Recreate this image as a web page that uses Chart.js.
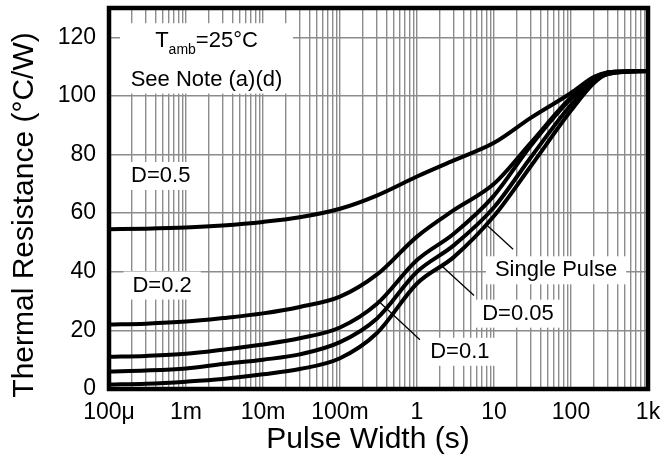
<!DOCTYPE html>
<html>
<head>
<meta charset="utf-8">
<script src="https://cdn.jsdelivr.net/npm/chart.js@4.4.1/dist/chart.umd.min.js"></script>
<style>
  html, body { margin: 0; padding: 0; background: #fff; }
</style>
</head>
<body>
<canvas id="thermalChart" width="662" height="467"></canvas>
<script>
// Pulse width (s) and thermal resistance (°C/W)
const pulseWidth = [1e-4, 3e-4, 1e-3, 3e-3, 1e-2, 3e-2, 0.1, 0.3, 1, 3, 10, 30, 100, 200, 300, 1000];
const duty05   = [54.5, 54.7, 55.1, 55.8, 57, 58.6, 61.5, 66, 72.5, 78, 84, 92.5, 101, 106.5, 108, 108.5];
const duty02   = [22, 22.3, 23, 24.2, 25.8, 28, 31.5, 39, 52, 61, 70, 84, 99.5, 105.5, 108, 108.5];
const duty01   = [11, 11.3, 12, 13.4, 15.2, 17.3, 21, 29, 44, 53, 66, 83, 99, 105, 108, 108.5];
const duty005  = [6, 6.3, 7, 8.5, 10, 11.8, 16, 24, 40, 49, 62, 79, 97, 105, 107.5, 108.5];
const single   = [1.5, 1.8, 2.5, 3.4, 5, 6.8, 10.5, 19, 36, 45, 59, 76, 95, 104.5, 107.5, 108.5];

const xTickValues = [1e-4, 1e-3, 1e-2, 1e-1, 1, 10, 100, 1000];
const xTickLabels = ['100\u03bc', '1m', '10m', '100m', '1', '10', '100', '1k'];
const yTickLabels = ['0', '20', '40', '60', '80', '100', '120'];

// text labels in data coordinates
const notes = [
  { text: 'D=0.5', x: 4.7e-4, y: 72.7 },
  { text: 'D=0.2', x: 4.9e-4, y: 35.3 },
  { text: 'Single Pulse', x: 64, y: 40.5 },
  { text: 'D=0.05', x: 20.5, y: 25.7 },
  { text: 'D=0.1', x: 3.6, y: 12.7 }
];
const leaders = [
  { from: [17.7, 47.7], to: [8.1, 55.9] },
  { from: [5.5, 31.9], to: [2.05, 42.2] },
  { from: [1.09, 16.8], to: [0.31, 30.2] }
];
const condBox = { x1: 1.39e-4, y1: 124.8, x2: 0.0245, y2: 100.8 };

const FONT = "'Liberation Sans', Arial, sans-serif";

function serie(values) {
  return {
    data: values.map((v, i) => ({ x: pulseWidth[i], y: v })),
    borderColor: '#000',
    borderWidth: 4,
    pointRadius: 0,
    fill: false,
    cubicInterpolationMode: 'monotone'
  };
}

// boîtes blanches, textes et traits de repère
const annotations = {
  id: 'annotations',
  beforeDatasetsDraw(chart) {
    const { ctx, scales: { x, y } } = chart;
    ctx.save();
    ctx.fillStyle = '#fff';
    const bx1 = x.getPixelForValue(condBox.x1), bx2 = x.getPixelForValue(condBox.x2);
    const by1 = y.getPixelForValue(condBox.y1), by2 = y.getPixelForValue(condBox.y2);
    ctx.fillRect(bx1, by1, bx2 - bx1, by2 - by1);

    ctx.font = '22px ' + FONT;
    ctx.textBaseline = 'middle';
    notes.forEach(n => {
      const px = x.getPixelForValue(n.x), py = y.getPixelForValue(n.y);
      const w = ctx.measureText(n.text).width;
      ctx.fillStyle = '#fff';
      ctx.fillRect(px - w / 2 - 9, py - 14, w + 18, 28);
      ctx.fillStyle = '#000';
      ctx.textAlign = 'center';
      ctx.fillText(n.text, px, py);
    });

    // T_amb=25°C
    const cx = (bx1 + bx2) / 2;
    const ty = y.getPixelForValue(118.6);
    ctx.textAlign = 'left';
    ctx.font = '22px ' + FONT;
    const wT = ctx.measureText('T').width;
    const wRest = ctx.measureText('=25\u00b0C').width;
    ctx.font = '14px ' + FONT;
    const wSub = ctx.measureText('amb').width;
    let sx = cx - (wT + wSub + wRest) / 2;
    ctx.fillStyle = '#000';
    ctx.font = '22px ' + FONT;
    ctx.fillText('T', sx, ty);
    ctx.font = '14px ' + FONT;
    ctx.fillText('amb', sx + wT, ty + 9);
    ctx.font = '22px ' + FONT;
    ctx.fillText('=25\u00b0C', sx + wT + wSub, ty);
    ctx.textAlign = 'center';
    ctx.fillText('See Note (a)(d)', cx, y.getPixelForValue(105.6));
    ctx.restore();
  },
  afterDatasetsDraw(chart) {
    const { ctx, chartArea: a, scales: { x, y } } = chart;
    ctx.save();
    ctx.strokeStyle = '#000';
    ctx.lineWidth = 1.3;
    leaders.forEach(l => {
      ctx.beginPath();
      ctx.moveTo(x.getPixelForValue(l.from[0]), y.getPixelForValue(l.from[1]));
      ctx.lineTo(x.getPixelForValue(l.to[0]), y.getPixelForValue(l.to[1]));
      ctx.stroke();
    });
    // cadre épais
    ctx.lineWidth = 4.5;
    ctx.strokeRect(a.left, a.top, a.right - a.left, a.bottom - a.top);

    // titres des axes
    ctx.fillStyle = '#000';
    ctx.font = '30px ' + FONT;
    ctx.textAlign = 'center';
    ctx.textBaseline = 'middle';
    ctx.fillText('Pulse Width (s)', 368, 440);
    ctx.translate(25, 215);
    ctx.rotate(-Math.PI / 2);
    ctx.fillText('Thermal Resistance (\u00b0C/W)', 0, 0);
    ctx.restore();
  }
};

const gridStyle = { color: '#8c8c8c', lineWidth: 1.4, drawTicks: false };

function noPadding(scale) {
  scale.paddingTop = 0;
  scale.paddingBottom = 0;
  scale.paddingLeft = 0;
  scale.paddingRight = 0;
}

new Chart(document.getElementById('thermalChart').getContext('2d'), {
  type: 'line',
  data: { datasets: [serie(duty05), serie(duty02), serie(duty01), serie(duty005), serie(single)] },
  options: {
    responsive: false,
    animation: false,
    devicePixelRatio: 1,
    layout: { padding: { left: 0, top: 8, right: 14, bottom: 0 } },
    plugins: { legend: { display: false }, tooltip: { enabled: false } },
    scales: {
      x: {
        type: 'logarithmic',
        min: 1e-4,
        max: 1e3,
        grid: gridStyle,
        border: { display: false },
        afterBuildTicks(scale) {
          const vals = [];
          for (let e = -4; e < 3; e++) {
            for (let m = 1; m < 10; m++) vals.push(+(m * Math.pow(10, e)).toPrecision(3));
          }
          vals.push(1000);
          scale.ticks = vals.map(v => ({ value: v }));
        },
        afterFit(scale) { scale.height = 78; noPadding(scale); },
        ticks: {
          autoSkip: false,
          maxRotation: 0,
          minRotation: 0,
          padding: 10,
          color: '#000',
          font: { size: 23, family: FONT },
          callback(value) {
            const i = xTickValues.findIndex(v => Math.abs(v - value) / v < 1e-6);
            return i >= 0 ? xTickLabels[i] : '';
          }
        }
      },
      y: {
        min: 0,
        max: 130,
        grid: gridStyle,
        border: { display: false },
        afterFit(scale) { scale.width = 109; noPadding(scale); },
        ticks: {
          stepSize: 10,
          padding: 13,
          color: '#000',
          font: { size: 23, family: FONT },
          callback(value) {
            return value % 20 === 0 ? (yTickLabels[value / 20] || '') : '';
          }
        }
      }
    }
  },
  plugins: [annotations]
});
</script>
</body>
</html>
